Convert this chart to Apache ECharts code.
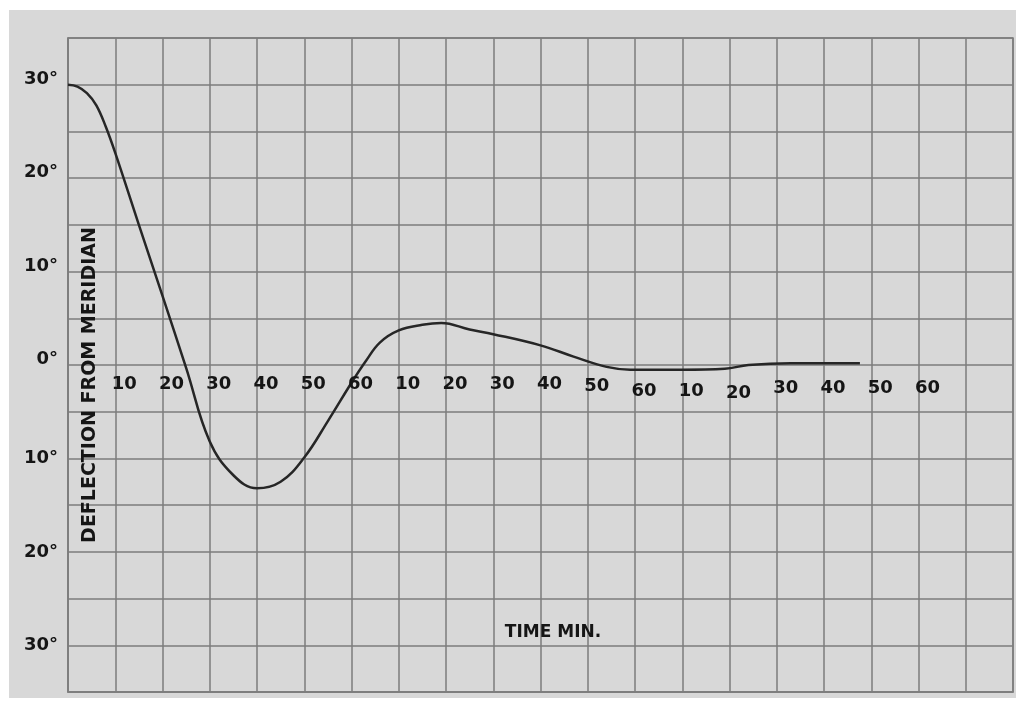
<!DOCTYPE html>
<html>
<head>
<meta charset="utf-8">
<script src="https://cdn.jsdelivr.net/npm/echarts@6/dist/echarts.min.js"></script>
<style>
html,body{margin:0;padding:0;background:#fff;}
#chart{width:1016px;height:701px;}
</style>
</head>
<body>
<div id="chart"></div>
<script>
// Time in minutes from start (three consecutive hours, each labelled 10..60)
const timeMin = [0, 2, 4, 6, 8, 10, 15, 20, 25, 30, 35, 40, 45, 50, 55, 60, 63, 66, 70, 75, 79, 85, 90, 100, 107, 114, 119, 130, 139, 144, 153, 167.6];
// Deflection from meridian in degrees
const deflection = [30, 29.8, 29.1, 27.8, 25.5, 22.7, 15.0, 7.4, -0.3, -8.2, -11.8, -13.2, -12.5, -9.9, -6.0, -1.9, 0.4, 2.4, 3.7, 4.3, 4.5, 3.8, 3.3, 2.1, 0.9, -0.2, -0.5, -0.5, -0.4, 0, 0.2, 0.2];
// Tick labels
const xTickValues = [10, 20, 30, 40, 50, 60, 70, 80, 90, 100, 110, 120, 130, 140, 150, 160, 170, 180];
const xTickLabels = ['10', '20', '30', '40', '50', '60', '10', '20', '30', '40', '50', '60', '10', '20', '30', '40', '50', '60'];
const yTickValues = [30, 20, 10, 0, -10, -20, -30];
const yTickLabels = ['30°', '20°', '10°', '0°', '10°', '20°', '30°'];
const yAxisTitle = 'DEFLECTION FROM MERIDIAN';
const xAxisTitle = 'TIME MIN.';

const gridColor = '#7d7d7d';
const textColor = '#151515';
const labelFont = 'DejaVu Sans';

// small hand-lettering drift of the time labels (px downwards)
function labelDrop(v) {
  if (v === 110) return 2;
  if (v === 120 || v === 130) return 7;
  if (v === 140) return 9;
  if (v > 140) return 4;
  return 0;
}

const chart = echarts.init(document.getElementById('chart'));
const option = {
  backgroundColor: '#ffffff',
  animation: false,
  graphic: [
    { type: 'rect', z: -100, silent: true, shape: { x: 9, y: 10, width: 1007, height: 688 }, style: { fill: '#d8d8d8' } },
    { type: 'text', z: 50, silent: true, x: 90, y: 385, rotation: Math.PI / 2,
      style: { text: yAxisTitle, fill: textColor, font: 'bold 19px "DejaVu Sans"', align: 'center', verticalAlign: 'middle' } },
    { type: 'text', z: 50, silent: true, x: 553, y: 633,
      style: { text: xAxisTitle, fill: textColor, font: 'bold 17px "DejaVu Sans"', align: 'center', verticalAlign: 'middle' } }
  ],
  grid: { left: 68, right: 3, top: 38, bottom: 9, outerBoundsMode: 'none', containLabel: false,
          show: true, borderColor: gridColor, borderWidth: 1.5, backgroundColor: 'transparent' },
  xAxis: {
    type: 'value', min: 0, max: 200, interval: 10,
    axisLine: { show: true, onZero: false, lineStyle: { color: gridColor, width: 1.5 } },
    axisTick: { show: false },
    splitLine: { show: true, lineStyle: { color: gridColor, width: 1.5 } },
    axisLabel: { show: false }
  },
  yAxis: {
    type: 'value', min: -35, max: 35, interval: 5,
    axisLine: { show: true, onZero: false, lineStyle: { color: gridColor, width: 1.5 } },
    axisTick: { show: false },
    splitLine: { show: true, lineStyle: { color: gridColor, width: 1.5 } },
    axisLabel: {
      margin: 10, color: textColor, fontSize: 18, fontWeight: 'bold', fontFamily: labelFont,
      formatter: function (v) {
        const i = yTickValues.indexOf(v);
        if (i < 0) return '';
        return (v >= 0 ? '{u|' : '{n|') + yTickLabels[i] + '}';
      },
      rich: {
        u: { padding: [0, 0, 11, 0], fontSize: 18, fontWeight: 'bold', color: textColor, fontFamily: labelFont },
        n: { fontSize: 18, fontWeight: 'bold', color: textColor, fontFamily: labelFont }
      }
    }
  },
  series: [
    {
      type: 'line',
      data: timeMin.map((t, i) => [t, deflection[i]]),
      smooth: 0.4,
      showSymbol: false,
      lineStyle: { color: '#262626', width: 2.5 },
      z: 10
    },
    {
      type: 'scatter',
      symbolSize: 0,
      silent: true,
      z: 11,
      itemStyle: { opacity: 1 },
      data: xTickValues.map((v, i) => ({
        value: [v, 0],
        name: xTickLabels[i],
        label: { offset: [9, labelDrop(v)] }
      })),
      label: {
        show: true, position: 'bottom', distance: 10, opacity: 1,
        formatter: p => p.name,
        color: textColor, fontSize: 18, fontWeight: 'bold', fontFamily: labelFont
      }
    }
  ]
};
chart.setOption(option);
</script>
</body>
</html>
